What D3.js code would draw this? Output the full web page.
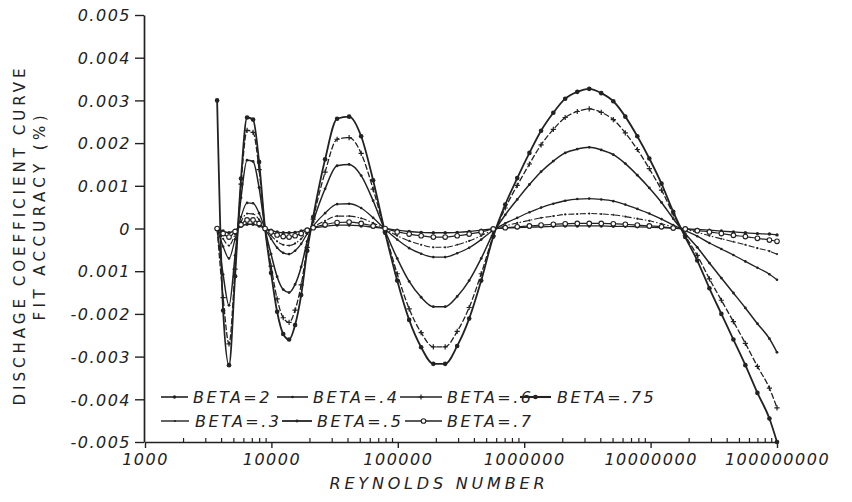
<!DOCTYPE html>
<html>
<head>
<meta charset="utf-8">
<script src="https://cdn.jsdelivr.net/npm/d3@7"></script>
<style>
  body { margin: 0; background: #fff; }
  svg text { font-family: "DejaVu Sans", sans-serif; fill: #222; }
</style>
</head>
<body>
<script>
// reynolds numbers where the fit error was evaluated
const reynolds = [3720, 4150, 4620, 5160, 5750, 6420, 7160, 7990, 8910, 9940,
  11100, 12400, 13800, 15400, 17200, 19200, 21400,
  26600, 33100, 41200, 51300, 63800, 79400, 98900, 123000, 153000, 191000,
  237000, 295000, 367000, 457000, 569000, 708000, 881000, 1100000, 1360000, 1700000,
  2110000, 2630000, 3270000, 4070000, 5070000, 6310000, 7850000, 9770000, 12200000, 15100000,
  18800000, 23400000, 29200000, 36300000, 45200000, 56200000, 70000000, 87100000, 100000000];

// fit accuracy (%) for each beta ratio
const beta75 = [0.00300, -0.00192, -0.00320, -0.00112, 0.00117, 0.00260, 0.00255, 0.00156, 0, -0.00104,
  -0.00195, -0.00247, -0.00260, -0.00226, -0.00156, -0.00052, 0.00027,
  0.00162, 0.00257, 0.00262, 0.00216, 0.00113, -0.00010, -0.00122, -0.00214, -0.00278, -0.00317,
  -0.00317, -0.00275, -0.00211, -0.00122, -0.00019, 0.00056, 0.00118, 0.00177, 0.00229, 0.00271,
  0.00304, 0.00320, 0.00327, 0.00317, 0.00298, 0.00262, 0.00216, 0.00164, 0.00105, 0.00039,
  -0.00020, -0.00075, -0.00140, -0.00200, -0.00260, -0.00320, -0.00385, -0.00445, -0.00500];
const beta6 = [0, -0.00162, -0.00270, -0.00095, 0.00104, 0.00230, 0.00225, 0.00138, 0, -0.00088,
  -0.00165, -0.00209, -0.00220, -0.00191, -0.00132, -0.00044, 0.00022,
  0.00132, 0.00209, 0.00213, 0.00176, 0.00092, -0.00008, -0.00106, -0.00188, -0.00244, -0.00277,
  -0.00277, -0.00241, -0.00185, -0.00106, -0.00017, 0.00048, 0.00101, 0.00151, 0.00196, 0.00232,
  0.00260, 0.00274, 0.00280, 0.00272, 0.00255, 0.00224, 0.00185, 0.00140, 0.00090, 0.00034,
  -0.00017, -0.00063, -0.00118, -0.00168, -0.00218, -0.00269, -0.00323, -0.00374, -0.00420];
const beta5 = [0, -0.00108, -0.00180, -0.00063, 0.00072, 0.00160, 0.00157, 0.00096, 0, -0.00060,
  -0.00113, -0.00143, -0.00150, -0.00131, -0.00090, -0.00030, 0.00016,
  0.00093, 0.00147, 0.00150, 0.00124, 0.00065, -0.00006, -0.00070, -0.00124, -0.00161, -0.00183,
  -0.00183, -0.00159, -0.00122, -0.00070, -0.00011, 0.00032, 0.00068, 0.00103, 0.00133, 0.00158,
  0.00177, 0.00186, 0.00190, 0.00184, 0.00173, 0.00152, 0.00125, 0.00095, 0.00061, 0.00023,
  -0.00012, -0.00044, -0.00081, -0.00116, -0.00151, -0.00186, -0.00223, -0.00258, -0.00290];
const beta4 = [0, -0.00042, -0.00070, -0.00025, 0.00027, 0.00060, 0.00059, 0.00036, 0, -0.00024,
  -0.00045, -0.00057, -0.00060, -0.00052, -0.00036, -0.00012, 0.00006,
  0.00036, 0.00057, 0.00058, 0.00048, 0.00025, -0.00002, -0.00026, -0.00046, -0.00059, -0.00067,
  -0.00067, -0.00058, -0.00045, -0.00026, -0.00004, 0.00012, 0.00025, 0.00038, 0.00049, 0.00058,
  0.00065, 0.00069, 0.00070, 0.00068, 0.00064, 0.00056, 0.00046, 0.00035, 0.00022, 0.00008,
  -0.00005, -0.00018, -0.00034, -0.00048, -0.00062, -0.00077, -0.00092, -0.00107, -0.00120];
const beta3 = [0, -0.00024, -0.00040, -0.00014, 0.00016, 0.00035, 0.00034, 0.00021, 0, -0.00016,
  -0.00030, -0.00038, -0.00040, -0.00035, -0.00024, -0.00008, 0.00003,
  0.00018, 0.00029, 0.00029, 0.00024, 0.00013, -0.00001, -0.00017, -0.00029, -0.00038, -0.00044,
  -0.00044, -0.00038, -0.00029, -0.00017, -0.00003, 0.00006, 0.00013, 0.00019, 0.00025, 0.00029,
  0.00033, 0.00034, 0.00035, 0.00034, 0.00032, 0.00028, 0.00023, 0.00018, 0.00011, 0.00004,
  -0.00002, -0.00009, -0.00017, -0.00024, -0.00031, -0.00038, -0.00046, -0.00053, -0.00060];
const beta7 = [0, -0.00012, -0.00020, -0.00007, 0.00009, 0.00020, 0.00020, 0.00012, 0, -0.00008,
  -0.00015, -0.00019, -0.00020, -0.00017, -0.00012, -0.00004, 0.00002,
  0.00009, 0.00014, 0.00015, 0.00012, 0.00006, 0, -0.00008, -0.00013, -0.00017, -0.00020,
  -0.00020, -0.00017, -0.00013, -0.00008, -0.00001, 0.00002, 0.00004, 0.00006, 0.00008, 0.00010,
  0.00011, 0.00012, 0.00012, 0.00012, 0.00011, 0.00010, 0.00008, 0.00006, 0.00004, 0.00001,
  -0.00001, -0.00005, -0.00008, -0.00012, -0.00016, -0.00019, -0.00023, -0.00027, -0.00030];
const beta2 = [0, -0.00006, -0.00010, -0.00004, 0.00005, 0.00010, 0.00010, 0.00006, 0, -0.00004,
  -0.00008, -0.00010, -0.00010, -0.00009, -0.00006, -0.00002, 0.00001,
  0.00005, 0.00008, 0.00008, 0.00006, 0.00003, 0, -0.00004, -0.00007, -0.00009, -0.00010,
  -0.00010, -0.00009, -0.00007, -0.00004, -0.00001, 0.00001, 0.00002, 0.00003, 0.00004, 0.00005,
  0.00006, 0.00006, 0.00006, 0.00006, 0.00005, 0.00005, 0.00004, 0.00003, 0.00002, 0.00001,
  -0.00001, -0.00002, -0.00004, -0.00006, -0.00008, -0.00010, -0.00012, -0.00013, -0.00015];

// ticks and labels
const xTicks = [1000, 10000, 100000, 1000000, 10000000, 100000000];
const xTickLabels = ["1000", "10000", "100000", "1000000", "10000000", "100000000"];
const yTicks = [0.005, 0.004, 0.003, 0.002, 0.001, 0, -0.001, -0.002, -0.003, -0.004, -0.005];
const yTickLabels = ["0.005", "0.004", "0.003", "0.002", "0.001", "0", "0.001", "-0.002", "-0.003", "-0.004", "-0.005"];
const yTitleLines = ["DISCHAGE  COEFFICIENT  CURVE", "FIT  ACCURACY (%)"];
const xTitle = "REYNOLDS  NUMBER";

// one entry per curve; legend slot: row, line start/end, text start
const series = [
  { label: "BETA=2",   values: beta2,  marker: "dot",  r: 1.7, width: 1.3, dash: null,        row: 0, l0: 161, l1: 188, tx: 193 },
  { label: "BETA=.4",  values: beta4,  marker: "dot",  r: 1.3, width: 1.3, dash: null,        row: 0, l0: 277, l1: 308, tx: 313 },
  { label: "BETA=.6",  values: beta6,  marker: "plus", r: 2.6, width: 1.3, dash: "6,2",       row: 0, l0: 400, l1: 442, tx: 447 },
  { label: "BETA=.75", values: beta75, marker: "dot",  r: 2.3, width: 1.8, dash: null,        row: 0, l0: 520, l1: 551, tx: 557 },
  { label: "BETA=.3",  values: beta3,  marker: "dot",  r: 1.1, width: 1.1, dash: "6,2,1.5,2", row: 1, l0: 161, l1: 189, tx: 195 },
  { label: "BETA=.5",  values: beta5,  marker: "dot",  r: 1.4, width: 1.5, dash: null,        row: 1, l0: 282, l1: 312, tx: 317 },
  { label: "BETA=.7",  values: beta7,  marker: "open", r: 2.3, width: 1.2, dash: null,        row: 1, l0: 405, l1: 442, tx: 447 }
];

const svg = d3.select("body").append("svg").attr("width", 852).attr("height", 502);
const ink = "#222";

const x = d3.scaleLog().domain([1000, 100000000]).range([145, 777]);
const y = d3.scaleLinear().domain([-0.005, 0.005]).range([442, 15]);

// y axis
const yAxis = svg.append("g").attr("transform", "translate(144,0)")
  .call(d3.axisLeft(y).tickValues(yTicks).tickFormat((d, i) => yTickLabels[i])
    .tickSize(9).tickSizeOuter(0).tickPadding(4));
yAxis.select(".domain").attr("stroke", ink).attr("stroke-width", 1.7);
yAxis.selectAll(".tick line").attr("stroke", ink).attr("stroke-width", 1.4);
yAxis.selectAll(".tick text").attr("font-size", 16).attr("font-style", "italic")
  .attr("letter-spacing", 1.5).attr("dy", "0.36em");

// minor log ticks on the x axis
const minor = [];
xTicks.slice(0, -1).forEach(d => { for (let m = 2; m < 10; m++) minor.push(d * m); });
svg.append("g").attr("transform", "translate(0,442)")
  .call(d3.axisTop(x).tickValues(minor).tickFormat("").tickSize(4).tickSizeOuter(0))
  .call(g => g.select(".domain").remove())
  .selectAll("line").attr("stroke", ink).attr("stroke-width", 1.2);

// x axis
const xAxis = svg.append("g").attr("transform", "translate(0,442)")
  .call(d3.axisBottom(x).tickValues(xTicks).tickFormat((d, i) => xTickLabels[i])
    .tickSize(6).tickSizeOuter(0));
xAxis.select(".domain").attr("stroke", ink).attr("stroke-width", 1.7);
xAxis.selectAll(".tick line").attr("stroke", ink).attr("stroke-width", 1.4);
xAxis.selectAll(".tick text").attr("font-size", 16).attr("font-style", "italic")
  .attr("letter-spacing", 1.5).attr("y", 12);

// axis titles
yTitleLines.forEach((t, i) => {
  svg.append("text")
    .attr("transform", `translate(${i === 0 ? 25 : 45},${i === 0 ? 237 : 218}) rotate(-90)`)
    .attr("text-anchor", "middle").attr("font-size", 15)
    .attr("textLength", i === 0 ? 337 : 205).attr("lengthAdjust", "spacing")
    .text(t);
});
svg.append("text").attr("x", 437).attr("y", 489).attr("text-anchor", "middle")
  .attr("font-size", 16).attr("font-style", "italic")
  .attr("textLength", 215).attr("lengthAdjust", "spacing").text(xTitle);

// curves
const line = d3.line()
  .x((d, i) => x(reynolds[i]))
  .y(d => y(d))
  .curve(d3.curveMonotoneX);

function drawMarker(g, s, px, py) {
  if (s.marker === "dot") {
    g.append("circle").attr("cx", px).attr("cy", py).attr("r", s.r).attr("fill", ink);
  } else if (s.marker === "open") {
    g.append("circle").attr("cx", px).attr("cy", py).attr("r", s.r)
      .attr("fill", "#fff").attr("stroke", ink).attr("stroke-width", 1.1);
  } else if (s.marker === "plus") {
    g.append("path").attr("d", `M${px - s.r},${py}H${px + s.r}M${px},${py - s.r}V${py + s.r}`)
      .attr("stroke", ink).attr("stroke-width", 1.2);
  }
}

series.forEach(s => {
  const g = svg.append("g");
  g.append("path").datum(s.values)
    .attr("fill", "none").attr("stroke", ink).attr("stroke-width", s.width)
    .attr("stroke-dasharray", s.dash).attr("stroke-linejoin", "round")
    .attr("d", line);
  s.values.forEach((v, i) => drawMarker(g, s, x(reynolds[i]), y(v)));
});

// legend
const rowY = [397, 421];
series.forEach(s => {
  const g = svg.append("g");
  const yy = rowY[s.row];
  g.append("line").attr("x1", s.l0).attr("x2", s.l1).attr("y1", yy).attr("y2", yy)
    .attr("stroke", ink).attr("stroke-width", s.width + 0.3);
  drawMarker(g, s, (s.l0 + s.l1) / 2, yy);
  g.append("text").attr("x", s.tx).attr("y", yy).attr("dy", "0.36em")
    .attr("font-size", 16).attr("font-style", "italic").attr("letter-spacing", 2.5)
    .text(s.label);
});
</script>
</body>
</html>
